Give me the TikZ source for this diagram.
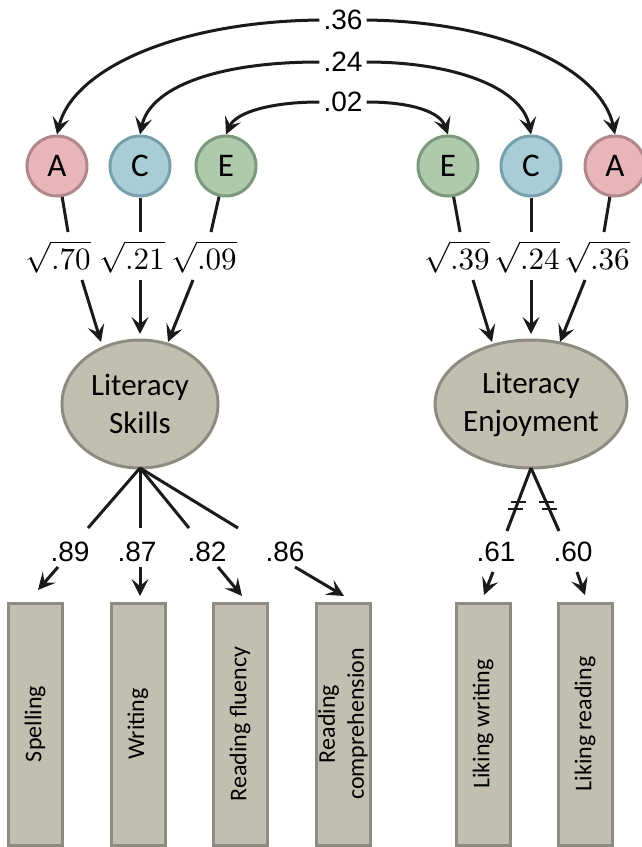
\documentclass[tikz,border=0pt]{standalone}
\usepackage{graphicx}
\usepackage[no-math]{fontspec}
\setmainfont{Carlito}
\newfontfamily\arialf{Liberation Sans}
\usetikzlibrary{shapes.geometric,arrows.meta}
\definecolor{pinkF}{HTML}{E8B5B8}
\definecolor{pinkD}{HTML}{B0888C}
\definecolor{blueF}{HTML}{A8CDD6}
\definecolor{blueD}{HTML}{78A0AC}
\definecolor{greenF}{HTML}{AEC9AC}
\definecolor{greenD}{HTML}{7C997D}
\definecolor{greyF}{HTML}{C2BFB0}
\definecolor{greyD}{HTML}{8C8C80}
\definecolor{ink}{HTML}{1A1A1A}
\newcommand{\bigsqrt}[1]{\scalebox{3.1}{\normalsize$\sqrt{#1}$}}
\begin{document}
\begin{tikzpicture}[x=1pt,y=-1pt,
  acirc/.style={circle,minimum size=60pt,inner sep=0pt,line width=3pt,font=\fontsize{33}{38}\selectfont},
  aA/.style={acirc,fill=pinkF,draw=pinkD},
  aC/.style={acirc,fill=blueF,draw=blueD},
  aE/.style={acirc,fill=greenF,draw=greenD},
  latent/.style={ellipse,minimum width=156pt,minimum height=128pt,inner sep=0pt,fill=greyF,draw=greyD,line width=3pt,align=center,font=\fontsize{31}{38}\selectfont},
  obsbox/.style={rectangle,rotate=90,minimum width=242pt,minimum height=54pt,inner sep=0pt,fill=greyF,draw=greyD,line width=3pt,align=center,font=\fontsize{24}{29}\selectfont},
  num/.style={inner sep=4pt,font=\arialf\fontsize{28}{32}\selectfont},
  sq/.style={inner sep=0pt},
  conn/.style={draw=ink,line width=3pt},
  arr/.style={conn,-{Stealth[length=17pt,width=17pt,inset=7pt]}},
  tick/.style={draw=ink,line width=2.2pt}
]
\useasboundingbox (0,0) rectangle (642,847);

% ACE circles
\node[aA] (cAL) at (57,166) {A};
\node[aC] (cCL) at (140,166) {C};
\node[aE] (cEL) at (226,166) {E};
\node[aE] (cER) at (448,166) {E};
\node[aC] (cCR) at (531,166) {C};
\node[aA] (cAR) at (615,166) {A};

% correlations
\node[num] (r36) at (343,20) {.36};
\node[num] (r24) at (343,62) {.24};
\node[num] (r02) at (343,102) {.02};
\draw[arr] (r36.west) .. controls (170,22) and (72,72) .. (cAL.north);
\draw[arr] (r36.east) .. controls (510,22) and (602,72) .. (cAR.north);
\draw[arr] (r24.west) .. controls (215,62) and (150,88) .. (cCL.north);
\draw[arr] (r24.east) .. controls (455,62) and (522,88) .. (cCR.north);
\draw[arr] (r02.west) .. controls (272,102) and (236,112) .. (cEL.north);
\draw[arr] (r02.east) .. controls (412,102) and (440,112) .. (cER.north);

% path coefficients
\node[sq] (sAL) at (58,257) {\bigsqrt{.70}};
\node[sq] (sCL) at (132,257) {\bigsqrt{.21}};
\node[sq] (sEL) at (204,257) {\bigsqrt{.09}};
\node[sq] (sER) at (457,257) {\bigsqrt{.39}};
\node[sq] (sCR) at (527,257) {\bigsqrt{.24}};
\node[sq] (sAR) at (597,257) {\bigsqrt{.36}};

% latent factors
\node[latent] (LS) at (140,404) {Literacy\\Skills};
\node[latent] (LE) at (531,404) {Literacy\\Enjoyment};

% left ACE -> Literacy Skills
\coordinate (pAL1) at (68,232);  \coordinate (pAL2) at (82,280);  \coordinate (tAL) at (101,342);
\coordinate (pCL1) at (140,232); \coordinate (pCL2) at (140,280); \coordinate (tCL) at (140,334);
\coordinate (pEL1) at (211,232); \coordinate (pEL2) at (193,280); \coordinate (tEL) at (168,342);
\draw[conn] (cAL) -- (pAL1); \draw[arr] (pAL2) -- (tAL);
\draw[conn] (cCL) -- (pCL1); \draw[arr] (pCL2) -- (tCL);
\draw[conn] (cEL) -- (pEL1); \draw[arr] (pEL2) -- (tEL);

% right ACE -> Literacy Enjoyment
\coordinate (pER1) at (460,232); \coordinate (pER2) at (473,280); \coordinate (tER) at (492,342);
\coordinate (pCR1) at (531,232); \coordinate (pCR2) at (531,280); \coordinate (tCR) at (531,334);
\coordinate (pAR1) at (604,232); \coordinate (pAR2) at (585,280); \coordinate (tAR) at (560,342);
\draw[conn] (cER) -- (pER1); \draw[arr] (pER2) -- (tER);
\draw[conn] (cCR) -- (pCR1); \draw[arr] (pCR2) -- (tCR);
\draw[conn] (cAR) -- (pAR1); \draw[arr] (pAR2) -- (tAR);

% observed indicators
\node[obsbox] (bSp) at (35,724) {Spelling};
\node[obsbox] (bWr) at (138,724) {Writing};
\node[obsbox] (bRF) at (240,724) {Reading fluency};
\node[obsbox] (bRC) at (343,724) {Reading\\comprehension};
\node[obsbox] (bLW) at (483,724) {Liking writing};
\node[obsbox] (bLR) at (585,724) {Liking reading};

% loadings, Literacy Skills
\coordinate (kS) at (140,468);
\coordinate (e1) at (88,528);  \coordinate (e2) at (140,528);
\coordinate (e3) at (189,528); \coordinate (e4) at (238,528);
\draw[conn] (kS) -- (e1);
\draw[conn] (kS) -- (e2);
\draw[conn] (kS) -- (e3);
\draw[conn] (kS) -- (e4);
\node[num] (l89) at (70,552) {.89};
\node[num] (l87) at (137,552) {.87};
\node[num] (l82) at (207,552) {.82};
\node[num] (l86) at (285,552) {.86};
\coordinate (f1) at (58,567);  \coordinate (g1) at (38,590);
\coordinate (f2) at (140,567); \coordinate (g2) at (140,596);
\coordinate (f3) at (218,567); \coordinate (g3) at (242,596);
\coordinate (f4) at (295,567); \coordinate (g4) at (344,596);
\draw[arr] (f1) -- (g1);
\draw[arr] (f2) -- (g2);
\draw[arr] (f3) -- (g3);
\draw[arr] (f4) -- (g4);

% loadings, Literacy Enjoyment
\coordinate (kE) at (531,468);
\coordinate (e5) at (507,531); \coordinate (e6) at (559,531);
\draw[conn] (kE) -- (e5);
\draw[conn] (kE) -- (e6);
\draw[tick] (510.5,502) -- (525.5,502);
\draw[tick] (508,509) -- (523,509);
\draw[tick] (538.5,502) -- (553.5,502);
\draw[tick] (541.5,509) -- (556.5,509);
\node[num] (l61) at (496,552) {.61};
\node[num] (l60) at (573,552) {.60};
\coordinate (f5) at (493,572); \coordinate (g5) at (484,595);
\coordinate (f6) at (577,572); \coordinate (g6) at (585,595);
\draw[arr] (f5) -- (g5);
\draw[arr] (f6) -- (g6);
\end{tikzpicture}
\end{document}
